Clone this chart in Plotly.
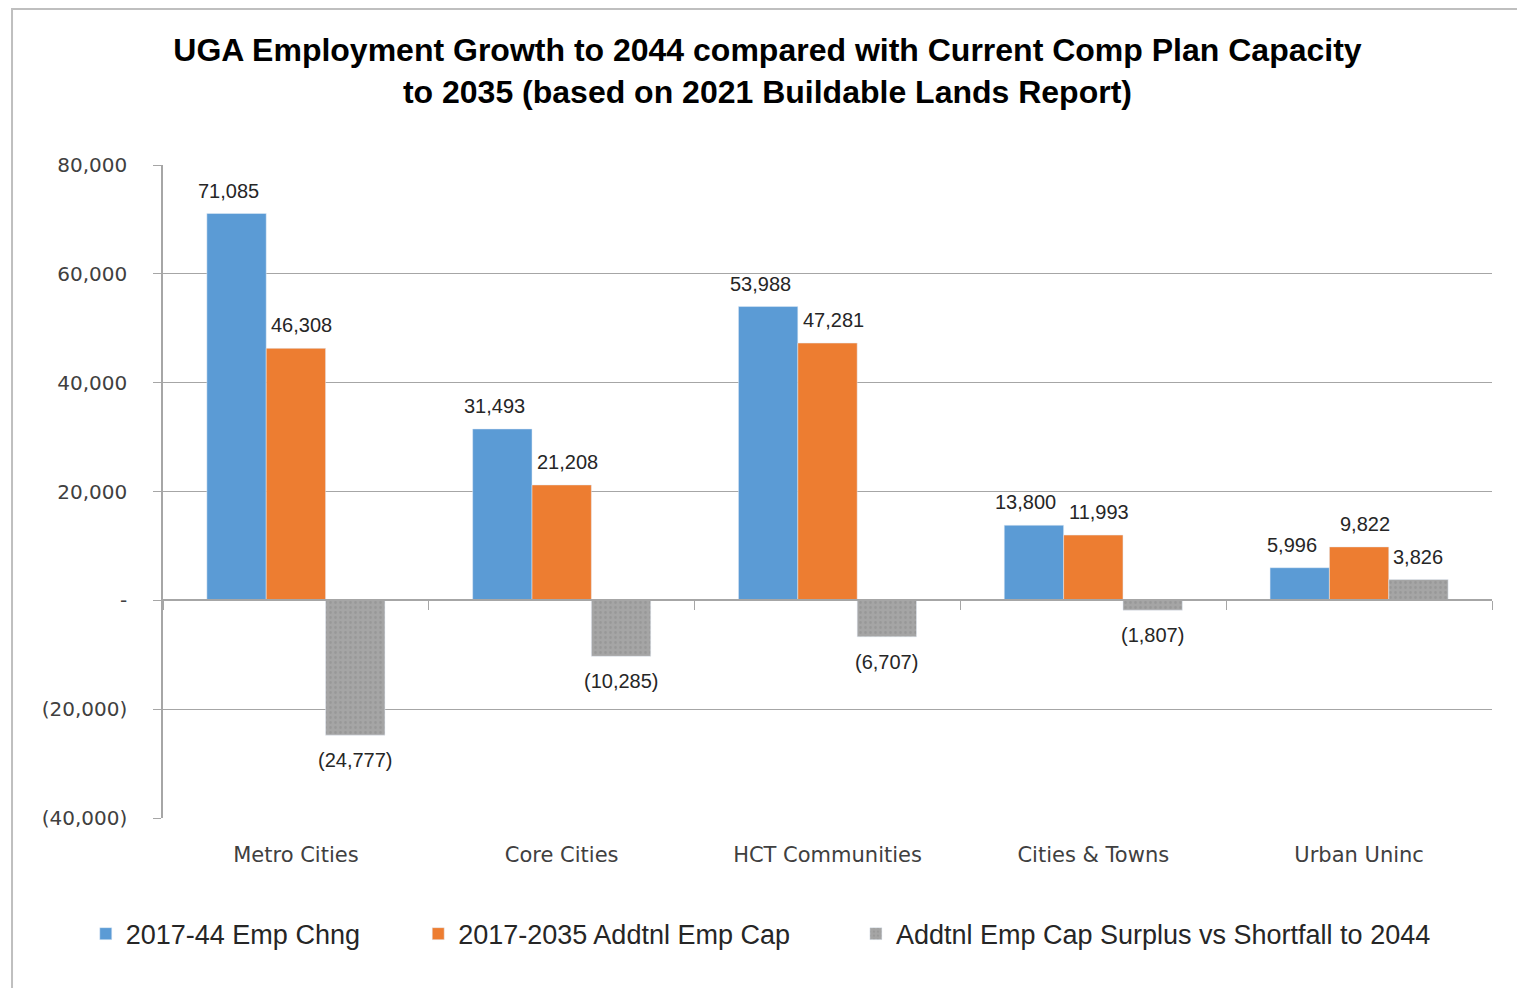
import plotly.graph_objects as go

# ── DATA ──────────────────────────────────────────────────────
categories = ["Metro Cities", "Core Cities", "HCT Communities", "Cities & Towns", "Urban Uninc"]
emp_change = [71085, 31493, 53988, 13800, 5996]
emp_capacity = [46308, 21208, 47281, 11993, 9822]
cap_surplus = [-24777, -10285, -6707, -1807, 3826]

y_ticks = [-40000, -20000, 0, 20000, 40000, 60000, 80000]
y_tick_text = ["(40,000)", "(20,000)", "-", "20,000", "40,000", "60,000", "80,000"]


def fmt(v):
    return f"({abs(v):,})" if v < 0 else f"{v:,}"


BLUE, ORANGE, GREY = "#5B9BD5", "#ED7D31", "#A5A5A5"
SANS = "Liberation Sans, Arial, sans-serif"
LABEL_FONT = dict(family=SANS, size=20, color="#262626")
AXIS_FONT = dict(family="DejaVu Sans, Verdana, sans-serif", size=20, color="#404040")
LEGEND_FONT = dict(family=SANS, size=27, color="#262626")

series = [
    ("2017-44 Emp Chng", emp_change, dict(color=BLUE), "legend"),
    ("2017-2035 Addtnl Emp Cap", emp_capacity, dict(color=ORANGE), "legend2"),
    ("Addtnl Emp Cap Surplus vs Shortfall to 2044", cap_surplus,
     dict(color=GREY, pattern=dict(shape=".", fgcolor="#8C8C8C", bgcolor=GREY,
                                   size=5, solidity=0.25)), "legend3"),
]

fig = go.Figure()
for name, vals, marker, leg in series:
    fig.add_trace(go.Bar(x=categories, y=vals, name=name, marker=marker,
                         cliponaxis=False, legend=leg))

# data labels as annotations so the gap to the bar end can match Excel's
bar_px = 1329 / 5 * (1 - 0.33) / 3
label_nudge = [-8, 6, 0]  # Excel nudged labels a little apart
for i, (name, vals, marker, leg) in enumerate(series):
    for cat, v in zip(categories, vals):
        fig.add_annotation(x=cat, y=v, text=fmt(v), showarrow=False,
                           xshift=(i - 1) * bar_px + label_nudge[i],
                           yanchor="bottom" if v >= 0 else "top",
                           yshift=10 if v >= 0 else -12,
                           font=LABEL_FONT)

# helper trace so the zero-line category axis (with boundary ticks) is drawn
fig.add_trace(go.Scatter(x=categories, y=[0] * len(categories), xaxis="x2", mode="lines",
                         line=dict(width=0), showlegend=False, hoverinfo="skip"))

legend_common = dict(orientation="h", xref="container", yref="container",
                     xanchor="left", y=0.055, yanchor="middle", font=LEGEND_FONT,
                     bgcolor="rgba(0,0,0,0)")

fig.update_layout(
    width=1525, height=980,
    paper_bgcolor="white", plot_bgcolor="white",
    margin=dict(l=155, r=41, t=157, b=170),
    barmode="group", bargap=0.33, bargroupgap=0,
    title=dict(text="UGA Employment Growth to 2044 compared with Current Comp Plan Capacity<br>"
                    "to 2035 (based on 2021 Buildable Lands Report)",
               x=0.498, xref="container", xanchor="center",
               y=0.946, yref="container", yanchor="middle",
               font=dict(family=SANS, size=32, color="black", weight="bold")),
    xaxis=dict(showline=False, ticks="", tickfont=dict(AXIS_FONT, size=21),
               ticklabelstandoff=22),
    xaxis2=dict(overlaying="x", matches="x", anchor="free", position=1 / 3,
                showticklabels=False, ticks="outside", tickson="boundaries",
                ticklen=9, tickcolor="#A6A6A6", showline=True, linecolor="#A6A6A6",
                linewidth=1.5, showgrid=False),
    yaxis=dict(range=[-40000, 80000], tickvals=y_ticks, ticktext=y_tick_text,
               tickfont=AXIS_FONT, showgrid=True, gridcolor="#A6A6A6", gridwidth=1,
               zeroline=False, showline=True, linecolor="#A6A6A6", linewidth=1.5,
               ticks="outside", ticklen=8, tickcolor="#A6A6A6", ticklabelstandoff=22),
    legend=dict(legend_common, x=0.051),
    legend2=dict(legend_common, x=0.269),
    legend3=dict(legend_common, x=0.556),
    shapes=[dict(type="rect", xref="paper", yref="paper",
                 x0=-0.1136, x1=1.0211, y0=-0.29, y1=1.239,
                 line=dict(color="#BFBFBF", width=2), fillcolor="rgba(0,0,0,0)")],
    showlegend=True,
)

fig.write_html("out.html")
